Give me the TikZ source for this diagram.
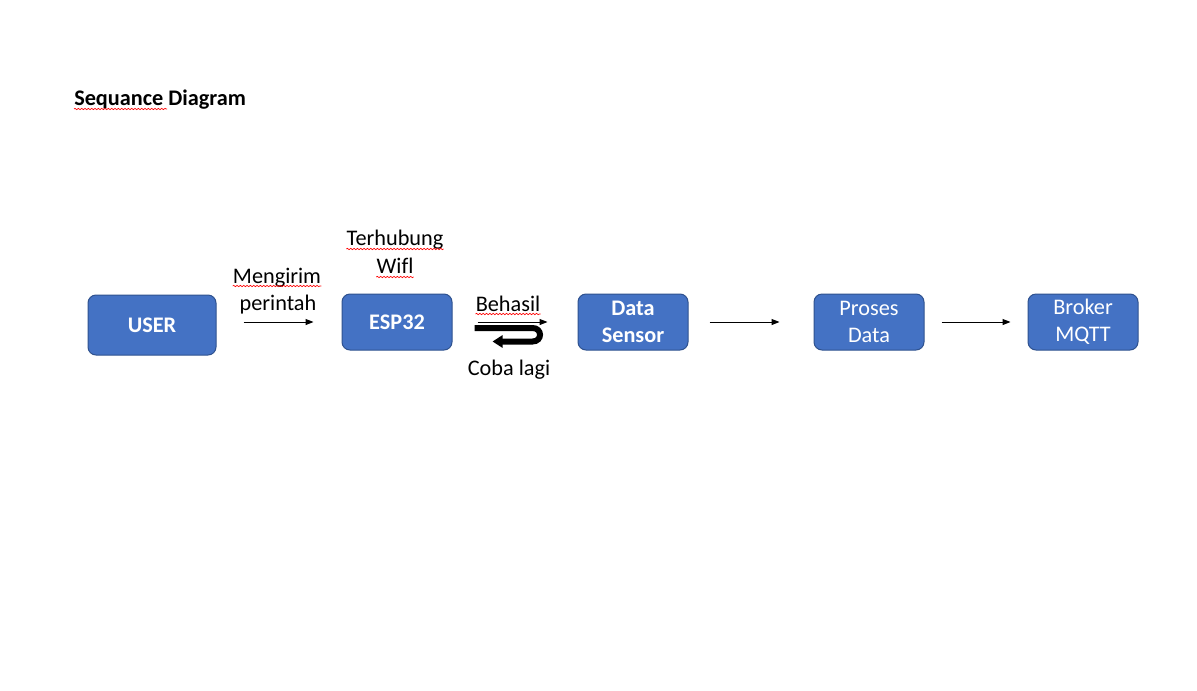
\documentclass[tikz,border=0pt]{standalone}
\usepackage{fontspec}
\setmainfont[Ligatures=NoCommon]{Carlito}
\usepackage{xcolor}
\usetikzlibrary{positioning,calc,arrows.meta,decorations.pathmorphing}
\definecolor{boxblue}{HTML}{4472C4}
\definecolor{boxedge}{HTML}{2F528F}

\begin{document}
\begin{tikzpicture}[x=0.75pt,y=-0.75pt,
    font=\fontsize{16.7}{19.5}\selectfont,
    block/.style={draw=boxedge, line width=0.75pt, fill=boxblue, rounded corners=6pt, text=white, align=center, minimum width=82.5pt, minimum height=42pt, inner sep=0pt},
    flow/.style={-{Triangle[length=6pt,width=4.5pt]}, line width=0.75pt},
    lbl/.style={inner sep=0pt, anchor=base},
    typo/.style={red, line width=0.5pt, decorate, decoration={snake, amplitude=0.5pt, segment length=2.5pt}}]
    \useasboundingbox[fill=white] (0,0) rectangle (1197,690);

    % Title
    \node[inner sep=0pt, anchor=base west, font=\fontsize{16.7}{19.5}\selectfont\bfseries] (title) at (74,105) {Sequance Diagram};
    \draw[typo] ($(title.base west)+(0,4)$) -- ++(93,0);

    % Blocks
    \node[block, minimum width=96pt, minimum height=45pt, font=\fontsize{16.7}{19.5}\selectfont\bfseries] (user) at (152,325) {USER};
    \node[block, font=\fontsize{16.7}{19.5}\selectfont\bfseries] (esp32) at (397,322) {ESP32};
    \node[block, font=\fontsize{16.7}{20.25}\selectfont\bfseries] (sensor) at (633,322) {Data\\Sensor};
    \node[block, font=\fontsize{16.7}{20.25}\selectfont] (proses) at (869,322) {Proses\\Data};
    \node[block, font=\fontsize{16.7}{20.25}\selectfont] (broker) at (1083,322) {Broker\\MQTT};

    % Flow
    \draw[flow, shorten <=20.25pt, shorten >=21pt] (user.east |- esp32) -- (esp32.west);
    \draw[flow, shorten <=18.75pt, shorten >=22.5pt] (esp32.east) -- (sensor.west);
    \draw[flow, shorten <=15.75pt, shorten >=25.5pt] (sensor.east) -- (proses.west);
    \draw[flow, shorten <=12.75pt, shorten >=12.75pt] (proses.east) -- (broker.west);

    % Retry
    \coordinate (turnin) at ($(esp32.east)+(22,6)$);
    \coordinate (turnout) at ($(esp32.east)+(40,19.5)$);
    \draw[line width=4.5pt, -{Triangle[length=7.5pt,width=9pt]}] (turnin) -- ++(58,0) .. controls +(10,0) and +(10,0) .. ++(0,13.5) -- (turnout);

    % Labels
    \node[lbl] (mengirim) at (277,283) {Mengirim};
    \node[lbl] (perintah) at (278,310) {perintah};
    \node[lbl] (terhubung) at (395,245) {Terhubung};
    \node[lbl] (wifl) at (395,273) {Wifl};
    \node[lbl] (behasil) at (508,311) {Behasil};
    \node[lbl] (cobalagi) at (509,375) {Coba lagi};

    % Spelling marks
    \draw[typo] ($(mengirim.base west)+(0,3)$) -- ($(mengirim.base east)+(0,3)$);
    \draw[typo] ($(terhubung.base west)+(0,4)$) -- ($(terhubung.base east)+(0,4)$);
    \draw[typo] ($(wifl.base west)+(0,4)$) -- ($(wifl.base east)+(0,4)$);
    \draw[typo] ($(behasil.base west)+(0,3)$) -- ($(behasil.base east)+(0,3)$);
\end{tikzpicture}
\end{document}
